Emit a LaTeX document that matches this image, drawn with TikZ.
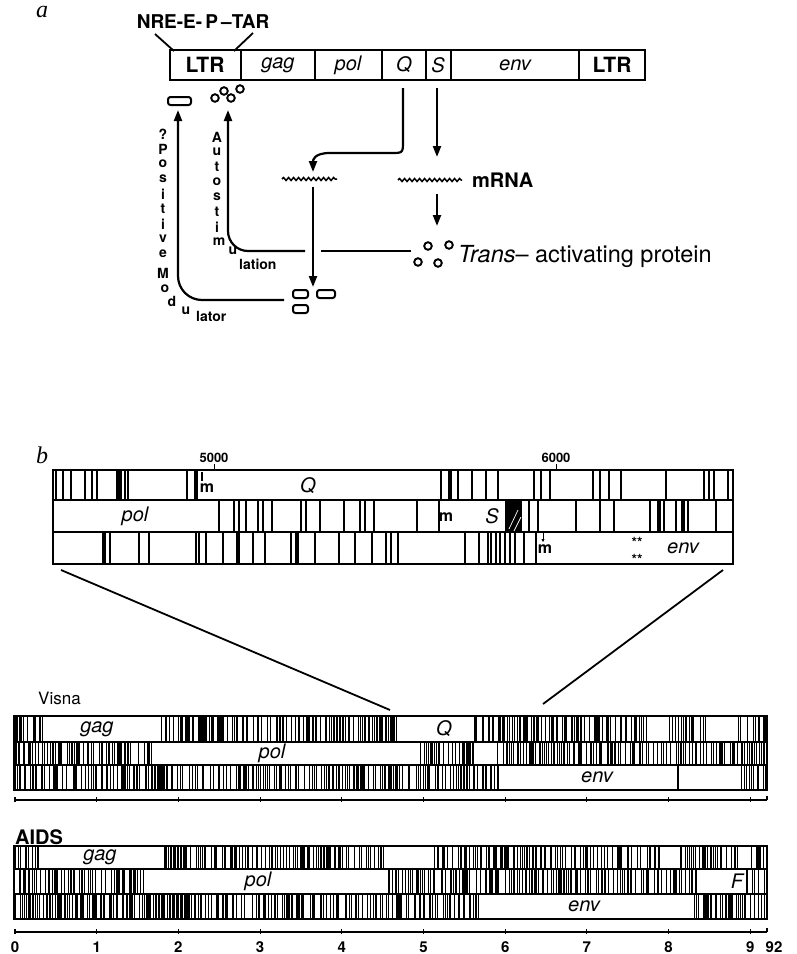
\documentclass[tikz,border=0pt]{standalone}
\usepackage{fontspec}
\setmainfont{TeX Gyre Heros}
\newfontfamily\serifit{Liberation Serif}
\usetikzlibrary{decorations.pathmorphing,arrows.meta}
\newcommand\fsz[1]{\fontsize{#1}{#1}\selectfont}
\newcommand\crow[4]{%
  \pgfmathsetmacro\crX{#1+1.5*rnd}%
  \loop
    \pgfmathsetmacro\crW{0.6+2.6*rnd*rnd*rnd}%
    \draw[line width=\crW pt] (\crX,#3) -- (\crX,#4);
    \pgfmathsetmacro\crX{\crX+0.9+6.8*rnd*rnd}%
  \ifdim\crX pt<#2pt
  \repeat
}
\begin{document}
\begin{tikzpicture}[x=1pt,y=-1pt,
  genelab/.style={font=\fsz{20}\itshape, inner sep=0},
  boldlab/.style={font=\fsz{21}\bfseries, inner sep=0},
  vlet/.style={font=\fsz{14}\bfseries, inner sep=0},
  numlab/.style={font=\fsz{15}\bfseries, inner sep=0},
  conn/.style={line width=2.2pt},
  arr/.style={conn, -{Triangle[length=11pt,width=8pt]}},
  wavy/.style={line width=1.5pt, decorate, decoration={snake, amplitude=1.5pt, segment length=5pt}},
  codon/.style={line width=1.1pt},
  codonthick/.style={line width=3.2pt},
  framebox/.style={line width=2.4pt},
  rowline/.style={line width=1.5pt},
  smallbox/.style={line width=2pt, rounded corners=2.5pt},
  dot/.style={line width=1.9pt}
]
\useasboundingbox (0,0) rectangle (796,954);

% ================= part a =================
\node[font=\serifit\itshape\fsz{24}, inner sep=0] (la) at (42,12) {a};
\node[font=\bfseries\fsz{19}, inner sep=0] (nre) at (203,22) {NRE-E-\,P\,–TAR};
\coordinate (n1a) at (155,34); \coordinate (n1b) at (174,51);
\coordinate (n2a) at (253,33); \coordinate (n2b) at (234,51);
\draw[line width=1.8pt] (n1a) -- (n1b);
\draw[line width=1.8pt] (n2a) -- (n2b);

\draw[framebox] (170,50) rectangle (645,80);
\foreach \x in {241,315,382,426,451,579} \draw[rowline] (\x,50) -- (\x,80);
\node[boldlab] (ltr1) at (205,65) {LTR};
\node[genelab] (gag) at (278,65) {gag};
\node[genelab] (pol) at (348,65) {pol};
\node[genelab] (q) at (404,65) {Q};
\node[genelab] (s) at (438,65) {S};
\node[genelab] (env) at (515,65) {env};
\node[boldlab] (ltr2) at (612,65) {LTR};

% products at LTR
\draw[smallbox] (168,97) rectangle (191,105);
\draw[dot] (215,98) circle (3.8pt);
\draw[dot] (224,91) circle (3.8pt);
\draw[dot] (231,98) circle (3.8pt);
\draw[dot] (240,89) circle (3.8pt);

% Q pathway
\coordinate (qb) at (403,88);
\coordinate (w1c) at (313,172);
\draw[arr] (qb) -- (403,141) .. controls (403,153) .. (391,153) -- (330,153) .. controls (314,153) and (313,160) .. (w1c);
\draw[wavy] (282,179) -- (337,179);
\coordinate (w1b) at (313,187);
\coordinate (boxtop) at (313,287);

% S pathway
\coordinate (sb) at (437,88);
\coordinate (w2t) at (437,157);
\draw[arr] (sb) -- (w2t);
\draw[wavy] (398,180) -- (462,180);
\node[font=\fsz{20}\bfseries, inner sep=0, anchor=west] (mrna) at (472,180) {mRNA};
\coordinate (w2b) at (437,194);
\coordinate (prt) at (437,226);
\draw[arr] (w2b) -- (prt);

% trans-activating protein
\draw[dot] (418,262) circle (3.8pt);
\draw[dot] (428,246) circle (3.8pt);
\draw[dot] (438,263) circle (3.8pt);
\draw[dot] (449,245) circle (3.8pt);
\node[font=\fsz{23.5}, inner sep=0, anchor=west] (trans) at (458,256) {\textit{Trans}– activating protein};

% autostimulation loop
\coordinate (asR) at (411,251);
\coordinate (asX1) at (321,251);
\coordinate (asX2) at (305,251);
\coordinate (asTop) at (228,110);
\draw[conn] (asR) -- (asX1);
\draw[arr, rounded corners=20pt] (asX2) -- (228,251) -- (asTop);

% modulator boxes and loop
\draw[arr] (w1b) -- (boxtop);
\draw[smallbox] (293,290) rectangle (308,298);
\draw[smallbox] (317,290) rectangle (335,298);
\draw[smallbox] (293,305) rectangle (308,313);
\coordinate (modR) at (284,300);
\coordinate (modTop) at (178,110);
\draw[arr, rounded corners=24pt] (modR) -- (178,300) -- (modTop);

% vertical texts
\foreach \ch [count=\i from 0] in {?,P,o,s,i,t,i,v,e}
  \node[vlet] (pm\i) at (163,134+15*\i) {\ch};
\node[vlet] (pmM) at (163,273) {M};
\node[vlet] (pmo) at (165,289) {o};
\node[vlet] (pmd) at (172,301) {d};
\node[vlet] (pmu) at (186,311) {u};
\node[vlet, anchor=west] (pml) at (196,316) {lator};
\foreach \ch [count=\i from 0] in {A,u,t,o,s,t,i}
  \node[vlet] (as\i) at (217,137+15*\i) {\ch};
\node[vlet] (asm) at (219,242) {m};
\node[vlet] (asu) at (233,251) {u};
\node[vlet, anchor=west] (asl) at (239,264) {lation};

% ================= part b =================
\node[font=\serifit\itshape\fsz{24}, inner sep=0] (lb) at (42,455) {b};
\node[font=\fsz{13}\bfseries, inner sep=0] (k5) at (214,458) {5000};
\node[font=\fsz{13}\bfseries, inner sep=0] (k6) at (556,458) {6000};
\draw[line width=1pt] (214,464) -- (214,470);
\draw[line width=1pt] (556,464) -- (556,470);

% detail bar
\foreach \x in {56,63,71,85,92,97,121,125,128,187,441,458,472,486,498,534,541,550,593,600,609,621,666,704,709,714,728}
  \draw[codon] (\x,470) -- (\x,500);
\foreach \x in {118,196,450} \draw[codonthick] (\x,470) -- (\x,500);
\foreach \x in {219,234,239,246,258,263,272,301,306,320,344,360,365,374,417,439,529,538,576,600,614,650,664,676,688,716}
  \draw[codon] (\x,500) -- (\x,532);
\foreach \x in {659,683} \draw[codonthick] (\x,500) -- (\x,532);
\foreach \x in {110,139,149,196,199,206,223,237,239,253,265,291,296,298,315,339,355,372,386,391,398,465,479,488,491,496,500,505,510,515,524,536}
  \draw[codon] (\x,532) -- (\x,564);
\foreach \x in {104} \draw[codonthick] (\x,532) -- (\x,564);
\fill (505,500) rectangle (522,532);
\draw[white, line width=0.7pt] (509,529) -- (518,510);
\draw[white, line width=0.7pt] (514,531) -- (521,517);
\draw[framebox] (53,470) rectangle (733,564);
\draw[rowline] (53,500) -- (733,500);
\draw[rowline] (53,532) -- (733,532);
\node[genelab] (dq) at (308,486) {Q};
\node[genelab] (dpol) at (135,516) {pol};
\node[genelab] (ds) at (492,516) {S};
\node[genelab] (denv) at (683,548) {env};
\node[font=\fsz{16}\bfseries, inner sep=0] (m1) at (207,488) {m};
\node[font=\fsz{16}\bfseries, inner sep=0] (m2) at (446,517) {m};
\node[font=\fsz{16}\bfseries, inner sep=0] (m3) at (545,549) {m};
\draw[line width=1.2pt] (202,472) -- (202,481);
\draw[line width=1pt, -{Triangle[length=3pt,width=3pt]}] (543,533) -- (543,542);
\node[font=\fsz{14}\bfseries, inner sep=0] (st1) at (637,542) {**};
\node[font=\fsz{14}\bfseries, inner sep=0] (st2) at (637,559) {**};

% zoom lines
\coordinate (dl) at (61,570); \coordinate (dr) at (723,570);
\coordinate (vl) at (390,710); \coordinate (vr) at (543,704);
\draw[line width=1.8pt] (dl) -- (vl);
\draw[line width=1.8pt] (dr) -- (vr);

% Visna
\pgfmathsetseed{7}
\node[font=\fsz{17}, inner sep=0, anchor=west] (visna) at (38,698) {Visna};
\crow{14}{43}{716}{742}
\crow{160}{398}{716}{742}
\crow{474}{647}{716}{742}
\crow{668}{707}{716}{742}
\crow{738}{767}{716}{742}
\crow{14}{152}{742}{765}
\crow{420}{474}{742}{765}
\crow{497}{767}{742}{765}
\crow{14}{500}{765}{790}
\draw[codon] (678,765) -- (678,790);
\crow{740}{767}{765}{790}
\draw[framebox] (14,716) rectangle (767,790);
\draw[rowline] (14,742) -- (767,742);
\draw[rowline] (14,765) -- (767,765);
\fill[white] (45,719) rectangle (158,739);
\fill[white] (414,719) rectangle (472,739);
\fill[white] (154,745) rectangle (418,762);
\fill[white] (502,768) rectangle (676,787);
\fill[white] (680,768) rectangle (738,787);
\node[genelab] (vgag) at (97,729) {gag};
\node[genelab] (vq) at (444,729) {Q};
\node[genelab] (vpol) at (272,753) {pol};
\node[genelab] (venv) at (597,777) {env};
\draw[line width=1.1pt] (14,800) -- (767,800);
\foreach \k in {0,...,9} \draw[line width=1.1pt] (15+81.7*\k,797) -- (15+81.7*\k,802);
\draw[line width=1.1pt] (767,796) -- (767,800);

% AIDS
\node[font=\fsz{20}\bfseries, inner sep=0, anchor=west] (aids) at (15,837) {AIDS};
\crow{14}{39}{846}{869}
\crow{163}{385}{846}{869}
\crow{434}{660}{846}{869}
\crow{680}{740}{846}{869}
\crow{750}{767}{846}{869}
\crow{14}{147}{869}{894}
\crow{388}{697}{869}{894}
\crow{745}{767}{869}{894}
\crow{14}{482}{894}{919}
\crow{694}{767}{894}{919}
\draw[framebox] (14,846) rectangle (767,919);
\draw[rowline] (14,869) -- (767,869);
\draw[rowline] (14,894) -- (767,894);
\fill[white] (41,849) rectangle (161,867);
\fill[white] (149,871) rectangle (386,892);
\fill[white] (699,871) rectangle (743,892);
\fill[white] (484,896) rectangle (692,917);
\node[genelab] (agag) at (100,857) {gag};
\node[genelab] (apol) at (258,881) {pol};
\node[genelab] (af) at (737,881) {F};
\node[genelab] (aenv) at (584,906) {env};
\draw[line width=1.1pt] (14,932) -- (767,932);
\foreach \k in {0,...,9} {
  \draw[line width=1.1pt] (15+81.7*\k,929) -- (15+81.7*\k,934);
  \node[numlab] (ax\k) at (15+81.7*\k,947) {\k};
}
\draw[line width=1.1pt] (767,928) -- (767,932);
\node[numlab] (ax92) at (774,947) {92};
\end{tikzpicture}
\end{document}
